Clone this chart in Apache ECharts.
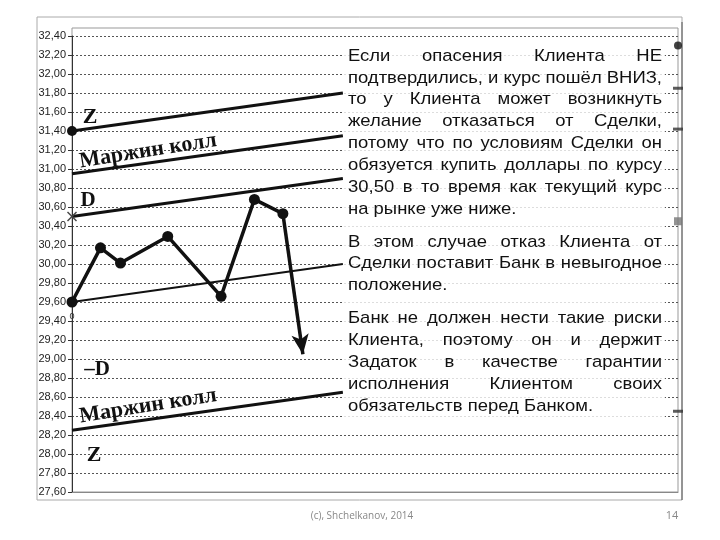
<!DOCTYPE html>
<html><head><meta charset="utf-8">
<script src="https://cdn.jsdelivr.net/npm/echarts@6/dist/echarts.min.js"></script>
<style>html,body{margin:0;padding:0;background:#fff}#c{width:720px;height:540px}</style>
</head><body><div id="c"></div>
<script>
// ---------- data ----------
const priceX = [0, 4.7, 8.0, 15.8, 24.6, 30.1, 34.8];
const priceY = [29.60, 30.17, 30.01, 30.29, 29.66, 30.68, 30.53];
const arrowEnd = [38.1, 29.05];
const lineX = [0, 44.7];
const zLine = [31.40, 31.80];
const marginUpper = [30.95, 31.35];
const dLine = [30.50, 30.90];
const baseLine = [29.60, 30.00];
const marginLower = [28.25, 28.65];
const edgeX = 100;
const edgeValues = [32.30, 31.85, 31.42, 30.45, 28.45];
const edgeKinds = ['dot', 'dash', 'dash', 'square', 'dash'];
const yMin = 27.6, yMax = 32.4, yStep = 0.2;
const xMin = 0, xMax = 100;

const para1 = [
  'Если опасения Клиента НЕ',
  'подтвердились, и курс пошёл ВНИЗ,',
  'то у Клиента может возникнуть',
  'желание отказаться от Сделки,',
  'потому что по условиям Сделки он',
  'обязуется купить доллары по курсу',
  '30,50 в то время как текущий курс',
  'на рынке уже ниже.'
];
const para2 = [
  'В этом случае отказ Клиента от',
  'Сделки поставит Банк в невыгодное',
  'положение.'
];
const para3 = [
  'Банк не должен нести такие риски',
  'Клиента, поэтому он и держит',
  'Задаток в качестве гарантии',
  'исполнения Клиентом своих',
  'обязательств перед Банком.'
];
const footerText = '(c), Shchelkanov, 2014';
const pageNumber = '14';

// ---------- layout helpers ----------
const TXT_FONT = 'Liberation Sans';
const boxLeft = 348, boxRight = 662;
const ctx = document.createElement('canvas').getContext('2d');
function measure(t, size) { ctx.font = size + 'px "' + TXT_FONT + '"'; return ctx.measureText(t).width; }

const fontSize = 17;
const allLines = para1.concat(para2, para3);
const maxW = Math.max.apply(null, allLines.map(l => measure(l, fontSize)));
const sx = Math.min(1.18, (boxRight - boxLeft) / maxW);

function paraGraphics(lines, y0, dy) {
  const out = [];
  lines.forEach((line, i) => {
    const y = y0 + i * dy;
    const words = line.split(' ');
    const last = i === lines.length - 1;
    if (last || words.length === 1) {
      out.push({ type: 'text', x: boxLeft, y: y, z: 10, scaleX: sx,
        style: { text: line, fontSize: fontSize, fontFamily: TXT_FONT, fill: '#111', align: 'left', verticalAlign: 'middle' } });
    } else {
      const widths = words.map(w => measure(w, fontSize) * sx);
      const total = widths.reduce((a, b) => a + b, 0);
      const gap = (boxRight - boxLeft - total) / (words.length - 1);
      let x = boxLeft;
      words.forEach((w, k) => {
        out.push({ type: 'text', x: x, y: y, z: 10, scaleX: sx,
          style: { text: w, fontSize: fontSize, fontFamily: TXT_FONT, fill: '#111', align: 'left', verticalAlign: 'middle' } });
        x += widths[k] + gap;
      });
    }
  });
  return out;
}

function serifLabel(text, x, y, rot, size) {
  return { type: 'text', x: x, y: y, rotation: (rot || 0) * Math.PI / 180, z: 10,
    style: { text: text, fontSize: size || 21, fontWeight: 'bold', fontFamily: 'Liberation Serif', fill: '#111', align: 'center', verticalAlign: 'middle' } };
}

const symbolFor = { dot: 'circle', dash: 'rect', square: 'rect' };
const sizeFor = { dot: 8, dash: [10, 3], square: 8 };
const colorFor = { dot: '#111', dash: '#333', square: '#777' };

function seg(vals) { return [[lineX[0], vals[0]], [lineX[1], vals[1]]]; }

const chart = echarts.init(document.getElementById('c'));
chart.setOption({
  animation: false,
  backgroundColor: '#fff',
  grid: { left: 72, right: 42, top: 36, bottom: 48 },
  xAxis: { type: 'value', min: xMin, max: xMax,
    axisLine: { show: true, lineStyle: { color: '#888' } }, axisTick: { show: false }, axisLabel: { show: false }, splitLine: { show: false } },
  yAxis: { type: 'value', min: yMin, max: yMax, interval: yStep,
    axisLine: { show: true, lineStyle: { color: '#333' } },
    axisTick: { show: true, length: 4, lineStyle: { color: '#333' } },
    axisLabel: { fontSize: 11, color: '#222', margin: 6, fontFamily: 'Liberation Sans',
      formatter: v => v.toFixed(2).replace('.', ',') },
    splitLine: { show: true, lineStyle: { type: [2, 2], color: '#555', width: 1 } } },
  series: [
    { type: 'line', name: 'Z', data: [{ value: seg(zLine)[0], symbol: 'circle', symbolSize: 10 }, { value: seg(zLine)[1], symbol: 'none' }],
      showSymbol: true, itemStyle: { color: '#111' }, lineStyle: { color: '#111', width: 3 }, z: 3 },
    { type: 'line', name: 'Маржин колл', data: seg(marginUpper), symbol: 'none', lineStyle: { color: '#111', width: 3 }, z: 3 },
    { type: 'line', name: 'D', data: [{ value: seg(dLine)[0], symbol: 'path://M0,1L1,0L5,4L9,0L10,1L6,5L10,9L9,10L5,6L1,10L0,9L4,5Z', symbolSize: 10 }, { value: seg(dLine)[1], symbol: 'none' }],
      showSymbol: true, itemStyle: { color: '#444' }, lineStyle: { color: '#111', width: 3 }, z: 3 },
    { type: 'line', name: 'base', data: seg(baseLine), symbol: 'none', lineStyle: { color: '#111', width: 2 }, z: 3 },
    { type: 'line', name: 'Маржин колл низ', data: seg(marginLower), symbol: 'none', lineStyle: { color: '#111', width: 3 }, z: 3 },
    { type: 'line', name: 'Курс', data: priceX.map((x, i) => [x, priceY[i]]),
      symbol: 'circle', symbolSize: 11, itemStyle: { color: '#111' }, lineStyle: { color: '#111', width: 3.5 }, z: 4,
      markLine: { silent: true, symbol: ['none', 'arrow'], symbolSize: [13, 20], label: { show: false },
        lineStyle: { color: '#111', width: 3.5, type: 'solid' },
        data: [[{ coord: [priceX[priceX.length - 1], priceY[priceY.length - 1]] }, { coord: arrowEnd }]] } },
    { type: 'scatter', name: 'edge', clip: false, z: 4,
      data: edgeValues.map((v, i) => ({ value: [edgeX, v], symbol: symbolFor[edgeKinds[i]], symbolSize: sizeFor[edgeKinds[i]], itemStyle: { color: colorFor[edgeKinds[i]] } })) }
  ],
  graphic: [
    { type: 'rect', z: 0, shape: { x: 37, y: 17, width: 645, height: 483 }, style: { fill: 'none', stroke: '#aaa', lineWidth: 1 } },
    { type: 'line', z: 0, shape: { x1: 682, y1: 22, x2: 682, y2: 500 }, style: { stroke: '#555', lineWidth: 1 } },
    { type: 'rect', z: 0, shape: { x: 72, y: 28, width: 606, height: 464 }, style: { fill: 'none', stroke: '#999', lineWidth: 1 } },
    { type: 'rect', z: 5, shape: { x: 343, y: 40, width: 322, height: 380 }, style: { fill: 'rgba(255,255,255,0.8)' } },
    serifLabel('Z', 90, 117, 0, 22),
    serifLabel('Маржин колл', 148, 151, 9, 22),
    serifLabel('D', 88, 201, 0, 21),
    serifLabel('–D', 97, 370, 0, 21),
    serifLabel('Маржин колл', 148, 406, 9, 22),
    serifLabel('Z', 94, 455, 0, 22),
    { type: 'text', x: 72, y: 317, z: 10, style: { text: '0', fontSize: 9, fontFamily: 'Liberation Sans', fill: '#333', align: 'center', verticalAlign: 'middle' } },
    { type: 'text', x: 362, y: 516, z: 10, style: { text: footerText, fontSize: 10, fontFamily: 'Open Sans', fill: '#888', align: 'center', verticalAlign: 'middle' } },
    { type: 'text', x: 672, y: 516, z: 10, style: { text: pageNumber, fontSize: 11, fontFamily: 'Open Sans', fill: '#888', align: 'center', verticalAlign: 'middle' } }
  ].concat(paraGraphics(para1, 56, 21.9), paraGraphics(para2, 242, 21.8), paraGraphics(para3, 318, 22))
});
</script></body></html>
